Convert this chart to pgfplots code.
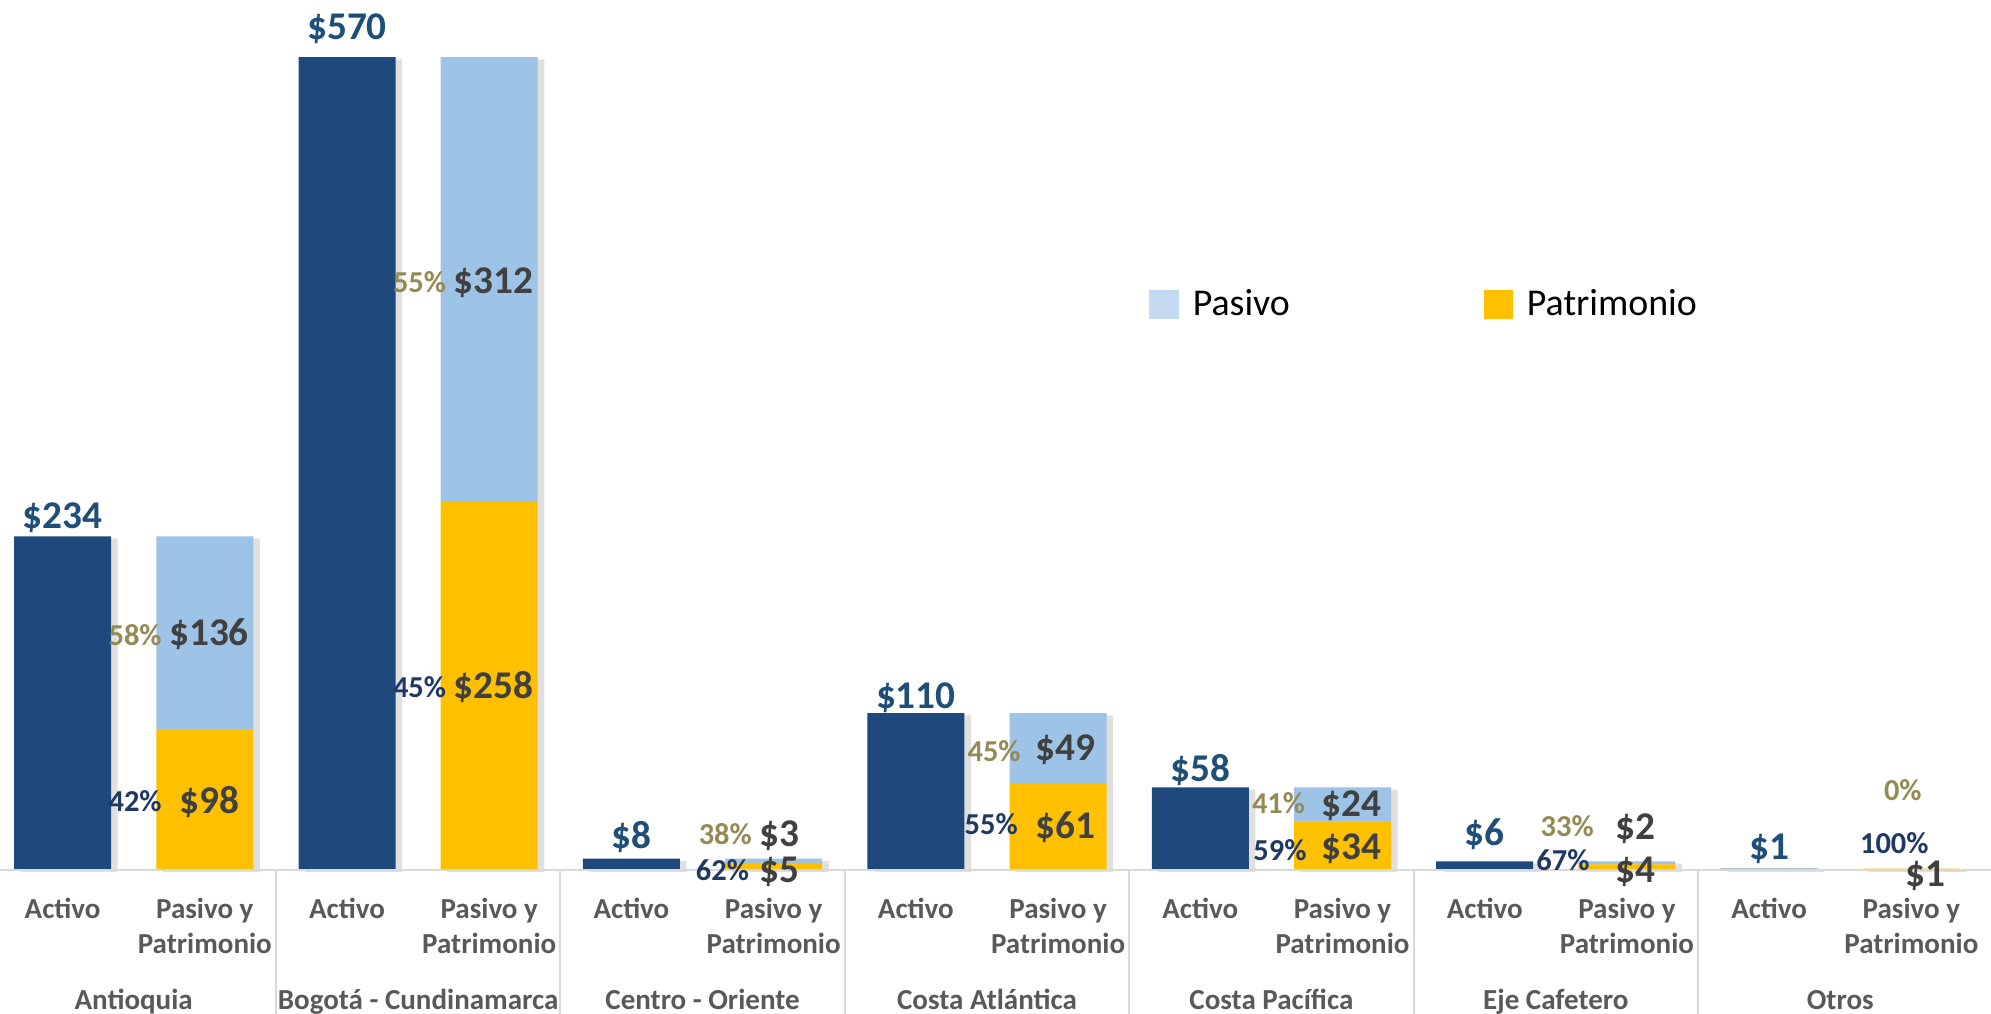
\documentclass[border=0pt]{standalone}
\usepackage{pgfplots}
\pgfplotsset{compat=1.18}
\usepackage{fontspec}
\setmainfont{Carlito}
\definecolor{activo}{HTML}{1F497D}
\definecolor{pasivo}{HTML}{9DC3E6}
\definecolor{pasivoleg}{HTML}{C5D9F1}
\definecolor{patri}{HTML}{FFC000}
\definecolor{actlab}{HTML}{1F4E79}
\definecolor{vallab}{HTML}{404040}
\definecolor{pctpas}{HTML}{948A54}
\definecolor{pctpat}{HTML}{1F3864}
\definecolor{catlab}{HTML}{595959}
\definecolor{gridc}{HTML}{D9D9D9}
\newcommand{\valfont}{\fontsize{14.2}{15}\selectfont\bfseries}
\newcommand{\pctfont}{\fontsize{11}{12}\selectfont\bfseries}
\newcommand{\catfont}{\fontsize{10.5}{12}\selectfont\bfseries}
\tikzset{lab/.style={inner sep=0pt},
  shad/.style={preaction={fill=black, opacity=0.12, transform canvas={xshift=2.4pt, yshift=-0.8pt}}}}
\newcommand{\av}[3]{\node[lab,font=\valfont,text=actlab] at (axis cs:#1,#2) {#3};}
\newcommand{\pv}[3]{\node[lab,font=\valfont,text=vallab] at (axis cs:#1,#2) {#3};}
\newcommand{\pa}[3]{\node[lab,font=\pctfont,text=pctpas] at (axis cs:#1,#2) {#3};}
\newcommand{\pt}[3]{\node[lab,font=\pctfont,text=pctpat] at (axis cs:#1,#2) {#3};}
\newcommand{\sep}[1]{\draw[gridc, line width=0.8pt] (axis cs:#1,0) -- ([yshift=-52.07pt]axis cs:#1,0);}
\newcommand{\grp}[4]{%
  \node[lab,font=\catfont,text=catlab,anchor=base] at ([yshift=-17.4pt]axis cs:#1,0) {Activo};
  \node[lab,font=\catfont,text=catlab,anchor=base] at ([yshift=-17.4pt]axis cs:#2,0) {Pasivo y};
  \node[lab,font=\catfont,text=catlab,anchor=base] at ([yshift=-30.3pt]axis cs:#2,0) {Patrimonio};
  \node[lab,font=\catfont,text=catlab,anchor=base] at ([yshift=-50.6pt]axis cs:#3,0) {#4};
}
\pgfplotsset{geom/.style={
  at={(0,0)}, anchor=south west,
  width=720pt, height=314.62pt, scale only axis,
  xmin=0.06, xmax=14.06, ymin=0, ymax=610,
  axis lines=none, ticks=none, clip=false}}
\begin{document}
\begin{tikzpicture}
\useasboundingbox (0,-52.07pt) rectangle (720pt,314.62pt);
\begin{axis}[geom,
  ybar stacked, bar width=0.682,
  legend image code/.code={\fill[#1] (0pt,-5.3pt) rectangle (10.7pt,5.3pt);},
  legend columns=2,
  legend style={at={(rel axis cs:0.577,0.650)}, anchor=west, draw=none, fill=none,
    inner sep=0pt, font=\fontsize{13.7}{15}\selectfont,
    /tikz/every odd column/.append style={column sep=3pt},
    /tikz/every even column/.append style={column sep=68pt}},
]
\addlegendimage{fill=pasivoleg, draw=none}
\addlegendentry{Pasivo}
\addlegendimage{fill=patri, draw=none}
\addlegendentry{Patrimonio}

\addplot[fill=activo, draw=none, shad] coordinates {(0.5,234) (1.5,0) (2.5,570) (3.5,0) (4.5,8) (5.5,0) (6.5,110) (7.5,0) (8.5,58) (9.5,0) (10.5,6) (11.5,0) (12.5,1) (13.5,0)};
\addplot[fill=patri, draw=none, shad] coordinates {(0.5,0) (1.5,98) (2.5,0) (3.5,258) (4.5,0) (5.5,5) (6.5,0) (7.5,61) (8.5,0) (9.5,34) (10.5,0) (11.5,4) (12.5,0) (13.5,1)};
\addplot[fill=pasivo, draw=none, shad] coordinates {(0.5,0) (1.5,136) (2.5,0) (3.5,312) (4.5,0) (5.5,3) (6.5,0) (7.5,49) (8.5,0) (9.5,24) (10.5,0) (11.5,2) (12.5,0) (13.5,0)};
\end{axis}
\begin{axis}[geom]
\draw[gridc, line width=0.8pt] (axis cs:0.06,0) -- (axis cs:14.06,0);
\sep{2}
\sep{4}
\sep{6}
\sep{8}
\sep{10}
\sep{12}

\grp{0.5}{1.5}{1}{Antioquia}
\grp{2.5}{3.5}{3}{Bogotá - Cundinamarca}
\grp{4.5}{5.5}{5}{Centro - Oriente}
\grp{6.5}{7.5}{7}{Costa Atlántica}
\grp{8.5}{9.5}{9}{Costa Pacífica}
\grp{10.5}{11.5}{11}{Eje Cafetero}
\grp{12.5}{13.5}{13}{Otros}

\av{0.5}{247}{\$234}
\av{2.5}{590}{\$570}
\av{4.5}{23}{\$8}
\av{6.5}{121}{\$110}
\av{8.5}{70}{\$58}
\av{10.5}{25}{\$6}
\av{12.5}{15}{\$1}

\pv{1.53}{165}{\$136}
\pv{1.53}{48}{\$98}
\pv{3.53}{412}{\$312}
\pv{3.53}{128}{\$258}
\pv{5.54}{24}{\$3}
\pv{5.54}{-1}{\$5}
\pv{7.55}{84}{\$49}
\pv{7.55}{30}{\$61}
\pv{9.56}{45}{\$24}
\pv{9.56}{15}{\$34}
\pv{11.56}{29}{\$2}
\pv{11.56}{-1}{\$4}
\pv{13.6}{-4}{\$1}

\pa{1.01}{165}{58\%}
\pa{3.01}{412}{55\%}
\pa{5.16}{25}{38\%}
\pa{7.05}{83}{45\%}
\pa{9.05}{47}{41\%}
\pa{11.08}{31}{33\%}
\pa{13.44}{56}{0\%}

\pt{1.01}{48}{42\%}
\pt{3.01}{128}{45\%}
\pt{5.14}{0}{62\%}
\pt{7.03}{32}{55\%}
\pt{9.06}{14}{59\%}
\pt{11.05}{7}{67\%}
\pt{13.38}{19}{100\%}
\end{axis}
\end{tikzpicture}
\end{document}
